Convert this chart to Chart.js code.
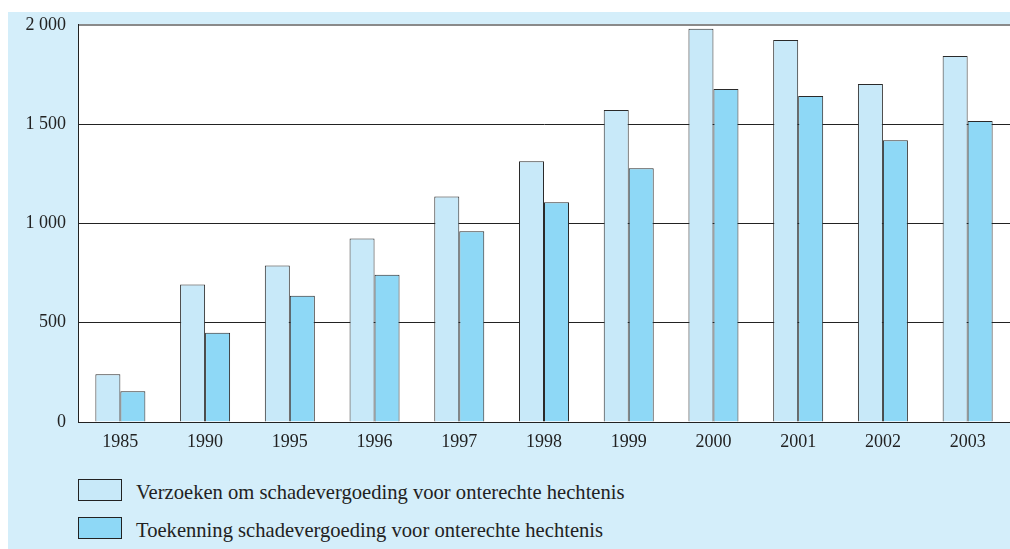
<!DOCTYPE html>
<html lang="nl">
<head>
    <meta charset="UTF-8">
    <title>Schadevergoeding onterechte hechtenis</title>
    <script src="https://cdn.jsdelivr.net/npm/chart.js"></script>
    <style>
        body {
            margin: 0;
            background: #ffffff;
            font-family: 'Liberation Serif', 'DejaVu Serif', serif;
        }

        .panel {
            position: absolute;
            left: 8px;
            top: 12px;
            width: 1002px;
            height: 537px;
            background: #d4eefa;
        }

        .chart-box {
            position: absolute;
            left: 0;
            top: -10px;
            width: 1002px;
            height: 463px;
        }

        #legend-container {
            position: absolute;
            left: 70px;
            top: 467px;
        }

        .legend-item {
            display: flex;
            align-items: center;
            height: 22px;
            margin-bottom: 16px;
            font-size: 20.6px;
            color: #222;
        }

        .legend-item span.txt {
            position: relative;
            top: 2px;
        }

        .legend-box {
            width: 42px;
            height: 20px;
            border: 1px solid #222;
            margin-right: 14px;
        }
    </style>
</head>

<body>
    <div class="panel">
        <div class="chart-box">
            <canvas id="myChart"></canvas>
        </div>
        <div id="legend-container"></div>
    </div>
</body>
<script>

    const years = ['1985', '1990', '1995', '1996', '1997', '1998', '1999', '2000', '2001', '2002', '2003'];
    const verzoeken = [240, 692, 788, 924, 1136, 1313, 1571, 1980, 1924, 1702, 1843];
    const toekenning = [155, 449, 636, 742, 960, 1106, 1278, 1677, 1641, 1419, 1515];
    const yTicks = [0, 500, 1000, 1500, 2000];
    const seriesNames = [
        'Verzoeken om schadevergoeding voor onterechte hechtenis',
        'Toekenning schadevergoeding voor onterechte hechtenis'
    ];

    const COLORS = {
        light: '#c8e9f9',
        dark: '#8ed8f6',
        edge: '#2a2a2a'
    };

    // white plot area on the blue panel
    const plotBackground = {
        id: 'plotBackground',
        beforeDraw(chart) {
            const a = chart.chartArea;
            const c = chart.ctx;
            c.save();
            c.fillStyle = '#ffffff';
            c.fillRect(a.left, a.top, a.right - a.left, a.bottom - a.top);
            c.restore();
        }
    };

    const htmlLegend = {
        id: 'htmlLegend',
        afterUpdate(chart) {
            const box = document.getElementById('legend-container');
            box.innerHTML = '';
            chart.data.datasets.forEach(ds => {
                const item = document.createElement('div');
                item.className = 'legend-item';
                const sw = document.createElement('span');
                sw.className = 'legend-box';
                sw.style.background = ds.backgroundColor;
                const txt = document.createElement('span');
                txt.className = 'txt';
                txt.textContent = ds.label;
                item.appendChild(sw);
                item.appendChild(txt);
                box.appendChild(item);
            });
        }
    };

    const fmt = v => v >= 1000 ? Math.floor(v / 1000) + ' ' + String(v % 1000).padStart(3, '0') : String(v);

    const config = {
        type: 'bar',
        data: {
            labels: years,
            datasets: [
                {
                    label: seriesNames[0],
                    data: verzoeken,
                    backgroundColor: COLORS.light,
                    borderColor: COLORS.edge,
                    borderWidth: 1,
                    barPercentage: 1,
                    categoryPercentage: 0.59
                },
                {
                    label: seriesNames[1],
                    data: toekenning,
                    backgroundColor: COLORS.dark,
                    borderColor: COLORS.edge,
                    borderWidth: 1,
                    barPercentage: 1,
                    categoryPercentage: 0.59
                }
            ]
        },
        options: {
            animation: false,
            responsive: true,
            maintainAspectRatio: false,
            events: [],
            layout: {
                padding: { top: 3, right: 0, left: 0, bottom: 0 }
            },
            plugins: {
                legend: { display: false },
                tooltip: { enabled: false }
            },
            scales: {
                x: {
                    grid: { display: false, drawTicks: false },
                    border: { color: '#222', width: 1 },
                    ticks: {
                        color: '#222',
                        padding: 9,
                        font: { family: 'Liberation Serif', size: 18 }
                    },
                    afterFit(scale) { scale.height = 43; }
                },
                y: {
                    min: 0,
                    max: 2000,
                    afterBuildTicks(scale) {
                        scale.ticks = yTicks.map(v => ({ value: v }));
                    },
                    grid: {
                        drawTicks: false,
                        color: ctx => ctx.tick && ctx.tick.value === 2000 ? '#8a8a8a' : '#222',
                        lineWidth: ctx => ctx.tick && ctx.tick.value === 2000 ? 2 : 1
                    },
                    border: { color: '#222', width: 1 },
                    ticks: {
                        color: '#222',
                        padding: 12,
                        font: { family: 'Liberation Serif', size: 18 },
                        callback: v => fmt(v)
                    },
                    afterFit(scale) { scale.width = 70; }
                }
            }
        },
        plugins: [plotBackground, htmlLegend]
    };

    const ctx = document.getElementById('myChart');
    const chart = new Chart(ctx, config);

</script>
</html>
